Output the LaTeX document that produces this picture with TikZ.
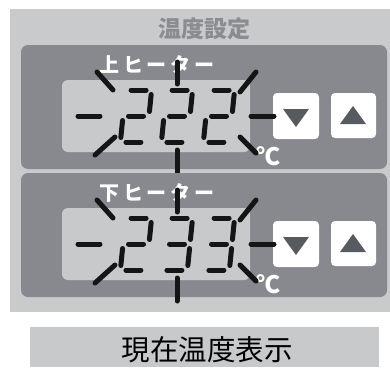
\documentclass[tikz,border=0pt]{standalone}
\usepackage{fontspec}
\newfontfamily\jp{Noto Sans CJK JP}
\definecolor{outerc}{HTML}{C9CACC}
\definecolor{panelc}{HTML}{87898E}
\definecolor{lcdc}{HTML}{C8C9CB}
\definecolor{titlec}{HTML}{8B8C8F}
\definecolor{tric}{HTML}{575A5E}
\definecolor{segc}{HTML}{151515}
\tikzset{
  seg/.style={line width=5pt, line cap=round, draw=segc},
  ray/.style={line width=5pt, line cap=round, draw=segc},
  panel/.style={fill=panelc, rounded corners=7pt},
  lcd/.style={fill=lcdc, rounded corners=6pt},
  btn/.style={fill=white, rounded corners=4pt},
  tri/.style={fill=tric},
  lbl/.style={text=white, font=\jp\bfseries\fontsize{20}{20}\selectfont\addfontfeatures{LetterSpace=18}, inner sep=0pt},
  degc/.style={text=white, font=\jp\bfseries\fontsize{24}{24}\selectfont, inner sep=0pt},
}
\def\sga{\draw[seg] (-7.5,-26) -- (7.5,-26);}
\def\sgb{\draw[seg] (13,-21.5) -- (13,-4.5);}
\def\sgc{\draw[seg] (13,4.5) -- (13,21.5);}
\def\sgd{\draw[seg] (-7.5,26) -- (7.5,26);}
\def\sge{\draw[seg] (-13,4.5) -- (-13,21.5);}
\def\sgf{\draw[seg] (-13,-21.5) -- (-13,-4.5);}
\def\sgg{\draw[seg] (-7.5,0) -- (7.5,0);}
\newcommand\digitat[3]{\begin{scope}[shift={(#1,#2)},xslant=0.1]
  \foreach \s in {#3}{\csname sg\s\endcsname}\end{scope}}
\newcommand\unitblock[4]{% #1 dy, #2 label, #3 first digit, #4 other digits
\begin{scope}[shift={(0,#1)}]
  \fill[panel] (21,45) rectangle (387,169);
  \fill[lcd] (62,80) rectangle (250,152);
  \fill[btn] (273,93) rectangle (319,139);
  \fill[btn] (331,93) rectangle (376,138);
  \fill[tri] (283,109) -- (309,109) -- (296,127) -- cycle;
  \fill[tri] (340,124) -- (366,124) -- (353,106) -- cycle;
  \node[lbl] (lab#1) at (157,65) {#2};
  \node[degc] (deg#1) at (268,156) {℃};
  \digitat{136}{116}{#3}
  #4
  \draw[ray] (78,116) -- (100,116);
  \draw[ray] (251,116) -- (274,116);
  \draw[ray] (177,62) -- (177,84);
  \draw[ray] (177,150) -- (177,173);
  \draw[ray] (97,72) -- (113,90);
  \draw[ray] (256,72) -- (240,92);
  \draw[ray] (95,155) -- (115,137);
  \draw[ray] (240,137) -- (256,153);
\end{scope}}
\begin{document}
\begin{tikzpicture}[x=1pt,y=-1pt]
\useasboundingbox (0,0) rectangle (390,367);
\fill[white] (0,0) rectangle (390,367);
\fill[outerc] (10,9) rectangle (390,312);
\node[text=titlec, font=\jp\bfseries\fontsize{23}{23}\selectfont, inner sep=0pt] (title) at (204,29) {温度設定};
\unitblock{0}{上ヒーター}{a,b,g,e,d}{\digitat{177}{116}{a,b,g,e,d}\digitat{219}{116}{a,b,g,e,d}}
\unitblock{128}{下ヒーター}{a,b,g,e,d}{\digitat{177}{116}{a,b,g,c,d}\digitat{219}{116}{a,b,g,c,d}}
\fill[lcdc] (30,327) rectangle (379,367);
\node[text=black, font=\jp\fontsize{28.5}{28.5}\selectfont, inner sep=0pt] (cur) at (207,350) {現在温度表示};
\end{tikzpicture}
\end{document}
